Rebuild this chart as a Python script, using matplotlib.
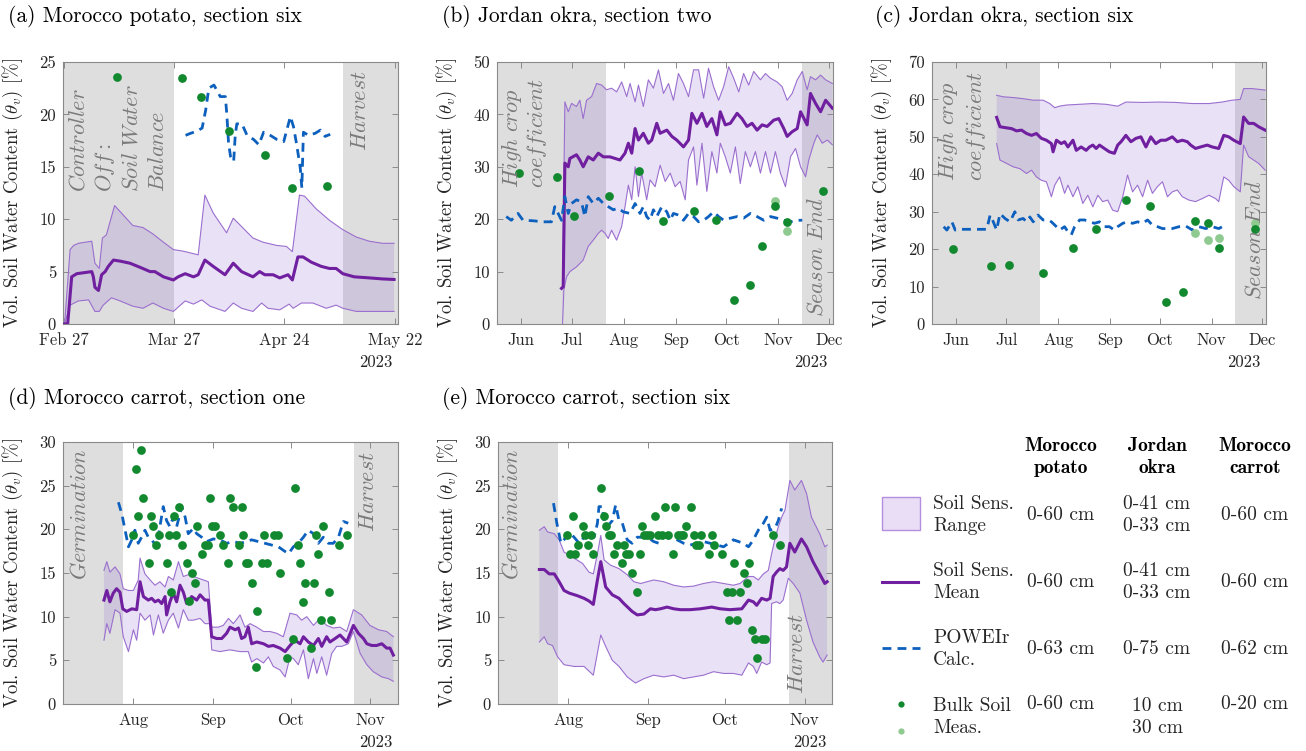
import numpy as np
import matplotlib
matplotlib.use("Agg")
import matplotlib.pyplot as plt
import matplotlib.dates as mdates
from matplotlib.patches import Rectangle
from matplotlib.lines import Line2D

plt.rcParams["font.family"] = "cmr10"
plt.rcParams["mathtext.fontset"] = "cm"
plt.rcParams["axes.formatter.use_mathtext"] = True
plt.rcParams["axes.unicode_minus"] = False

W, H = 1306, 751

# ---------------------------------------------------------------------------
# (a) Morocco potato, section six   (days since 2023-02-27)
# ---------------------------------------------------------------------------
a_mean_d = [0.2,1,2,3.3,7.1,7.5,7.9,8.8,9.6,10.5,11.3,12.6,14.3,16.8,19.4,21.9,23.1,25.3,27.8,29,
            30.8,32.9,34.1,35.8,37.9,40.9,43,45.1,48,49.7,51,53.1,54.8,56.9,58,59.4,60.7,62.8,65.3,
            67.4,69.1,70.8,73.7,77.5,80.9,83.8]
a_mean_v = [0,0.05,4.5,4.8,5.0,4.5,3.5,3.2,4.7,5.0,5.5,6.1,6.0,5.8,5.4,5.0,5.0,4.5,4.2,4.5,
            4.8,4.5,4.7,6.1,5.5,4.7,5.8,5.0,4.5,5.0,4.7,4.7,4.4,4.7,4.2,6.4,6.4,5.9,5.5,
            5.3,5.3,4.8,4.5,4.4,4.3,4.25]
a_up_d = [0.2,1.6,2.5,3.7,7.1,7.9,9,9.8,10.8,12.9,14.6,17.5,20.1,22.6,25.3,27.8,30.3,34.1,35.8,37.9,
          41.3,43,45.1,48,50.6,54,56.5,58,59.8,61.1,64,67.4,70.8,74.2,77.5,80.9,83.8]
a_up_v = [0,7.1,7.5,7.7,7.9,5.8,5.3,8.2,8.5,11.3,10.6,9.4,9.2,8.6,7.8,7.1,6.95,6.6,12.3,10.6,
          8.7,10.1,9.3,8.2,7.8,7.5,7.4,6.9,12.3,12.2,11.0,9.9,9.0,8.3,7.9,7.7,7.7]
a_lo_d = [0.2,1.6,3.7,6.3,7.9,9,10,12.1,14.3,17.5,20.1,22.6,25.3,27.8,30.8,32.9,35,37.1,40.9,43,
          45.1,48,50.2,51.8,54.8,57.2,58.2,60.3,63.2,66.6,69.1,70.8,74.2,83.8]
a_lo_v = [0,1.8,2.2,2.3,1.2,1.2,1.8,2.5,2.2,1.7,1.5,2.0,1.5,1.2,2.2,1.9,2.3,1.7,1.2,2.0,
          1.5,1.2,2.0,1.5,1.35,1.9,1.5,2.0,2.0,1.5,1.8,1.5,1.2,1.2]
a_calc_d = [30.9,32.2,33.8,35.1,36.0,36.8,38.1,39.7,41.0,41.4,41.8,42.3,43.1,43.5,43.9,45.2,46.5,
            48.2,49.5,50.7,52.4,54.1,55.8,57.5,58.3,59.1,60.0,60.4,60.8,62.1,63.8,65.1,66.3,67.6]
a_calc_v = [18.0,18.2,18.4,18.7,20.4,22.5,22.8,21.7,21.7,19.8,17.3,16.0,15.5,18.0,19.1,19.1,18.0,
            17.6,17.1,18.3,18.0,17.6,17.4,19.8,18.8,17.1,14.9,13.0,18.3,18.0,18.2,18.5,17.9,18.1]
a_meas_d = [13.6,30,34.9,42,51,57.9,66.9]
a_meas_v = [23.6,23.5,21.7,18.4,16.1,12.95,13.2]

# ---------------------------------------------------------------------------
# (b) Jordan okra, section two   (days since 2023-06-01)
# ---------------------------------------------------------------------------
b_mean_d = [23.9,24.9,25.9,27.9,28.9,32.8,34.8,36.8,39.8,42.8,45.8,48.8,52.7,55.7,58.7,61.7,63.7,
            65.7,67.7,69.7,72.6,75.6,77.6,80.6,82.6,86.6,89.6,92.5,96.5,99.5,101.5,104.5,107.5,
            110.4,113.4,116.4,118.4,121.4,124.4,128.4,131.3,134.3,137.3,140.3,143.3,146.3,150.2,
            153.2,156.2,158.2,161.2,164.2,166.2,170.1,172.1,175.1,178.1,181.1,185.1]
b_mean_v = [6.8,7.1,30.7,30.0,31.6,32.3,31.3,30.0,31.9,31.3,32.6,31.9,31.9,31.6,31.3,32.6,34.5,
            32.6,37.3,35.1,36.4,34.5,35.1,38.3,36.4,37.0,35.8,35.1,33.8,35.1,40.2,38.3,40.2,
            37.7,39.2,36.1,40.5,38.0,38.3,40.2,39.2,37.7,38.3,37.0,38.0,37.7,38.9,
            39.2,37.3,35.8,36.7,37.3,40.5,38.0,44.0,42.1,40.5,42.7,41.2]
b_up_d = [24.5,25.9,27.9,29.9,32.8,34.8,36.8,38.8,41.8,44.8,47.8,50.7,53.7,56.7,59.7,62.7,64.7,
          67.7,69.7,72.6,75.6,78.6,81.6,84.6,87.6,90.5,93.5,96.5,99.5,102.5,105.5,108.5,111.4,
          114.4,117.4,120.4,123.4,126.4,129.4,132.3,135.3,138.3,142.3,145.3,148.3,152.2,155.2,
          158.2,161.2,164.2,167.2,170.1,172.1,175.1,178.1,181.1,185.1]
b_up_v = [7.0,42.4,40.5,42.1,41.5,42.7,39.2,42.7,43.4,45.9,45.6,44.7,45.0,44.3,46.2,43.4,45.9,
          42.4,45.6,41.5,46.6,45.0,48.5,44.0,45.9,42.7,47.8,45.9,43.4,48.5,48.5,43.1,48.8,
          45.3,42.7,45.3,49.1,46.9,44.3,47.8,45.6,48.2,46.6,47.8,46.9,46.2,45.3,
          42.7,44.0,46.6,48.2,44.7,47.2,46.6,47.5,46.6,45.9]
b_lo_d = [24.5,25.3,26.9,28.9,32.8,36.8,39.8,42.8,45.8,47.8,49.8,51.7,53.7,56.7,59.7,61.7,63.7,
          65.7,67.7,69.7,71.6,74.6,76.6,79.6,82.6,85.6,88.6,91.5,94.5,97.5,99.5,102.5,104.5,
          107.5,110.4,113.4,116.4,118.4,121.4,124.4,127.4,130.3,133.3,136.3,139.3,142.3,145.3,
          148.3,151.2,154.2,157.2,160.2,163.2,166.2,169.2,171.1,174.1,176.1,179.1,182.1,185.1]
b_lo_v = [0,6.5,9.0,10.0,10.9,12.2,14.8,16.0,17.3,17.9,17.3,16.3,17.9,16.0,18.6,22.4,26.5,
          23.7,30.0,24.3,28.8,23.7,27.5,26.2,30.3,27.2,28.8,26.2,27.2,23.7,31.3,33.8,26.5,
          34.5,25.3,32.9,28.8,34.5,31.9,28.8,33.8,26.8,32.9,30.0,32.9,28.8,32.9,
          28.8,32.9,28.8,26.2,31.9,33.5,30.0,28.1,31.3,34.5,36.1,34.5,35.1,34.2]
b_calc_d = [-9.0,-6.0,-2.0,1.0,7.0,12.9,17.9,19.9,21.9,23.9,25.9,27.9,29.9,32.8,35.8,37.8,39.8,
            42.8,45.8,48.8,51.7,54.7,57.7,60.7,64.7,67.7,70.6,72.6,74.6,76.6,78.6,80.6,83.6,
            86.6,88.6,90.5,93.5,96.5,99.5,102.5,105.5,108.5,111.4,114.4,117.4,120.4,124.4,
            128.4,132.3,136.3,140.3,144.3,148.3,152.2,156.2,160.2,164.2,167.2]
b_calc_v = [20.5,19.8,21.1,19.8,19.7,19.5,19.5,22.4,21.1,19.8,24.3,21.1,23.0,23.7,23.3,20.5,24.3,
            23.0,24.0,23.0,22.4,21.8,22.1,21.4,21.1,23.0,21.1,22.4,20.5,19.8,21.8,20.5,22.4,
            21.4,19.8,21.1,20.8,19.8,21.1,20.5,19.5,19.8,20.5,21.4,20.5,19.8,20.2,
            20.5,20.2,21.1,20.5,19.8,20.5,20.2,19.8,19.5,19.8,19.8]
b_meas_d = [-1.6,21.3,31.2,52.3,70.2,84.6,102.5,116,126.4,136.3,143.3,151.2,158.2,179.7]
b_meas_v = [28.9,28.0,20.7,24.4,29.2,19.7,21.5,19.8,4.6,7.4,14.8,22.6,19.5,25.3]
b_deep_d = [151.2,158.2]
b_deep_v = [23.5,17.8]

# ---------------------------------------------------------------------------
# (c) Jordan okra, section six   (days since 2023-06-01)
# ---------------------------------------------------------------------------
c_mean_d = [24.2,26.2,30.2,33.2,36.1,39.1,42.1,45.1,48.0,51.0,54.0,57.0,58.0,60.0,62.9,64.9,66.9,
            69.9,71.9,74.8,77.8,79.8,81.8,83.8,85.8,88.7,91.7,94.7,96.7,98.7,101.6,104.6,107.6,
            110.6,113.6,116.5,119.5,122.5,125.5,129.4,132.4,135.4,138.4,140.4,143.3,146.3,150.3,
            153.3,157.2,160.2,163.2,166.2,170.1,172.1,175.1,178.1,181.1,185.0]
c_mean_v = [55.2,52.7,52.4,52.2,51.6,51.8,50.9,50.4,50.9,49.6,49.1,48.2,46.0,49.1,48.2,48.7,47.3,
            49.1,46.4,47.3,46.4,47.3,47.8,46.9,47.8,46.9,46.0,45.6,47.8,48.7,50.4,48.7,49.6,
            50.0,47.3,50.0,48.2,49.1,49.1,50.0,48.7,49.1,48.7,47.8,46.9,47.3,47.8,
            47.3,46.9,50.4,50.0,49.1,48.2,55.3,53.6,53.6,52.7,51.8]
c_up_d = [24.2,28.2,34.1,40.1,46.1,52.0,56.0,59.0,61.9,65.9,73.9,81.8,89.7,96.7,101.6,111.6,121.5,
          131.4,141.4,151.3,159.2,165.2,170.1,172.1,177.1,185.0]
c_up_v = [61.1,60.7,60.5,60.2,59.8,59.8,58.9,57.8,58.2,58.5,58.7,58.9,58.7,58.2,59.3,59.2,59.3,
          59.2,58.9,58.9,59.3,59.8,60.0,62.9,62.9,62.5]
c_lo_d = [24.2,26.2,30.2,34.1,38.1,42.1,45.1,48.0,51.0,54.0,57.0,59.0,61.9,64.9,66.9,69.9,72.8,
          75.8,78.8,81.8,84.8,87.7,90.7,93.7,96.7,99.7,102.6,105.6,108.6,111.6,114.6,117.5,
          120.5,123.5,126.5,129.4,132.4,135.4,139.4,143.3,147.3,151.3,155.3,157.2,160.2,163.2,
          166.2,170.1,172.1,175.1,178.1,181.1,185.0]
c_lo_v = [48.2,43.8,42.9,42.0,41.5,40.2,41.1,39.3,38.4,38.0,34.0,37.1,39.3,34.9,37.1,34.0,36.7,
          32.2,34.4,31.3,34.4,32.7,33.1,30.4,30.0,34.0,39.8,35.3,37.1,34.0,38.4,34.9,
          36.7,38.0,34.0,35.3,35.8,34.0,33.1,32.7,33.5,34.4,33.5,32.7,39.3,38.4,
          36.7,35.3,47.8,44.7,43.8,42.9,41.1]
c_calc_d = [-7.5,-5.6,-2.6,-0.6,2.4,8.3,14.3,18.3,20.3,22.2,24.2,26.2,29.2,32.2,35.1,37.1,40.1,
            42.1,44.1,46.1,49.0,52.0,55.0,57.0,60.0,61.9,64.9,66.9,68.9,70.9,73.9,76.8,79.8,
            82.8,85.8,88.7,91.7,94.7,96.7,99.7,102.6,105.6,108.6,111.6,114.6,117.5,120.5,
            123.5,126.5,129.4,133.4,137.4,141.4,145.3,149.3,153.3,157.2,161.2]
c_calc_v = [26.0,25.1,27.3,25.1,25.3,25.3,25.3,25.3,29.1,27.3,25.1,29.5,28.2,27.3,30.0,27.8,28.2,
            27.3,28.6,27.3,29.1,27.8,27.8,27.3,26.0,25.1,26.0,24.6,23.8,26.0,27.8,27.8,27.3,
            26.9,27.3,26.0,26.0,25.1,26.0,26.9,27.3,26.9,27.3,26.9,27.8,26.4,26.0,
            25.5,25.5,25.5,26.0,26.2,25.1,26.0,25.5,26.0,25.5,26.4]
c_meas_d = [-2.0,21.0,31.4,52.0,70.1,84.0,101.8,115.9,125.9,135.8,142.9,150.9,157.6,178.7]
c_meas_v = [20.1,15.6,15.7,13.7,20.2,25.5,33.1,31.6,5.8,8.5,27.6,27.0,20.2,25.4]
c_deep_d = [142.9,150.9,157.6,178.7]
c_deep_v = [24.4,22.4,22.9,27.0]

# ---------------------------------------------------------------------------
# (d) Morocco carrot, section one   (days since 2023-08-01)
# ---------------------------------------------------------------------------
d_mean_d = [-11.4,-10.3,-9.1,-7.8,-6.5,-5.2,-4.1,-2.6,-0.6,1.3,2.6,3.9,5.8,7.1,8.4,9.7,11.0,12.3,
            12.9,14.2,15.5,16.8,18.1,19.4,20.7,22.6,24.6,25.9,27.8,29.1,30.4,32.3,34.3,36.2,37.5,
            39.5,40.8,42.0,43.3,44.6,45.9,47.9,50.5,52.4,54.3,56.9,58.9,60.8,62.7,64.7,66.0,
            67.9,69.9,71.8,73.1,75.0,76.3,78.3,80.2,82.8,85.4,87.3,89.3,90.6,92.5,94.4,96.4,
            98.3,99.6,100.9]
d_mean_v = [11.9,13.0,11.7,12.7,13.2,12.8,10.9,10.6,10.9,10.8,14.0,12.3,11.9,12.1,11.7,11.9,11.5,
            12.3,10.2,11.7,12.7,11.7,13.6,12.8,11.5,12.3,11.9,12.5,11.9,11.9,7.7,7.5,7.5,8.1,8.8,
            8.5,8.7,7.5,7.7,8.8,6.9,7.1,6.9,6.6,6.7,6.4,6.0,6.7,7.3,6.9,7.7,
            7.1,6.7,7.5,6.6,7.7,7.1,7.5,7.9,7.1,9.0,8.1,7.5,6.9,6.7,6.7,6.9,
            6.4,6.4,5.6]
d_up_d = [-11.4,-10.3,-9.1,-7.1,-5.2,-3.9,-1.9,0,1.9,2.6,4.5,6.5,8.4,10.3,12.3,13.6,15.5,17.5,19.4,
          21.3,23.3,25.2,27.2,29.1,30.4,33.0,34.9,36.9,38.8,41.4,43.3,45.3,47.9,50.5,53.0,55.6,
          58.2,60.8,63.4,65.3,67.3,69.9,72.4,75.0,77.6,80.2,82.8,85.4,88.6,91.8,95.1,98.3,100.9]
d_up_v = [15.3,16.3,15.1,15.7,14.9,13.2,13.0,13.0,14.2,16.7,14.9,14.2,13.6,14.0,13.4,14.6,14.2,16.3,
          14.6,14.8,14.6,14.4,14.2,14.0,8.8,8.8,9.0,9.8,9.2,10.2,8.8,9.2,8.8,8.3,8.3,8.1,
          7.7,10.4,10.2,9.6,10.0,9.0,9.8,9.0,8.7,8.8,8.3,10.8,10.2,9.0,8.5,8.3,7.7]
d_lo_d = [-11.4,-10.3,-9.1,-7.1,-5.2,-3.9,-1.9,0,1.3,2.6,4.5,6.5,7.8,9.7,11.6,13.6,15.5,17.5,19.4,
          21.3,23.3,25.9,27.8,29.8,30.4,33.6,37.5,41.4,44.6,45.9,47.9,50.5,52.4,54.3,56.9,58.9,
          60.8,62.1,64.0,66.0,67.9,69.9,71.2,73.1,75.0,77.0,78.9,80.9,83.4,85.4,88.0,90.6,93.1,
          96.4,99.0,100.9]
d_lo_v = [7.3,9.2,8.1,10.8,10.4,7.7,6.0,8.5,7.3,10.4,9.6,10.2,7.9,10.2,8.1,9.6,10.4,8.7,10.8,
          9.6,9.6,9.8,9.2,9.2,6.2,6.0,6.2,6.0,6.0,4.8,5.2,4.7,5.4,4.3,3.9,3.1,
          5.4,5.2,4.5,6.2,2.9,5.2,3.5,5.4,3.3,5.8,6.6,6.6,6.9,8.3,5.8,4.5,3.7,
          3.1,2.9,2.6]
d_calc_d = [-5.8,-4.5,-3.2,-1.9,-0.6,0.6,1.9,3.2,4.5,5.8,7.1,9.1,10.3,11.6,12.9,14.2,15.5,16.8,
            18.8,20.1,21.3,23.3,24.6,26.5,28.5,31.0,33.6,36.2,38.8,41.4,44.0,45.9,48.5,51.1,
            53.7,56.3,58.2,60.2,62.1,64.0,66.0,67.9,69.9,71.8,73.7,75.7,77.6,79.6,81.5,83.4]
d_calc_v = [23.1,21.8,19.9,18.0,18.8,19.9,18.4,19.1,19.9,19.1,18.8,18.0,20.3,22.6,21.0,20.3,21.4,
            20.3,22.6,21.4,19.5,20.1,19.5,19.1,18.6,18.9,18.8,18.4,18.6,18.4,18.6,18.8,18.6,
            18.4,18.2,18.0,17.6,17.2,18.0,18.4,19.1,19.9,19.5,18.4,19.1,18.4,18.4,19.1,20.9,20.7]
d_meas_d = [-0.3,0.9,1.8,2.8,3.9,6.0,6.7,7.8,8.8,9.8,12.9,13.7,14.7,15.7,16.7,17.7,18.8,21.0,21.7,
            22.6,23.8,24.8,26.6,27.7,29.0,29.8,30.7,31.7,33.6,34.7,36.9,37.5,38.8,40.9,42.0,42.7,
            43.6,44.6,45.9,47.9,49.8,50.8,51.9,54.7,56.0,56.9,47.6,59.8,61.8,62.7,63.8,64.8,
            65.9,66.8,68.8,70.0,70.9,71.8,72.8,73.7,75.8,76.7,79.8,82.8]
d_meas_v = [19.3,26.9,21.5,29.1,23.6,16.1,21.5,20.4,18.2,19.3,16.1,19.3,12.8,21.5,19.3,22.6,18.2,
            16.1,11.8,15.0,13.9,20.4,17.2,18.2,18.2,23.6,20.4,20.4,19.3,18.2,16.1,23.6,22.6,
            18.2,22.6,19.3,16.1,16.1,13.9,10.7,16.1,19.3,16.1,19.3,19.3,15.0,4.2,5.3,7.4,24.7,
            18.2,16.1,11.7,13.9,6.4,13.9,19.3,17.2,9.6,20.4,12.8,9.6,18.2,19.3]

# ---------------------------------------------------------------------------
# (e) Morocco carrot, section six   (days since 2023-08-01)
# ---------------------------------------------------------------------------
e_mean_d = [-11.2,-9.3,-7.4,-5.4,-3.5,-1.6,0.4,3.6,6.2,8.1,9.8,11.4,12.7,14.6,17.2,19.8,21.7,24.9,
            26.9,29.5,32.0,34.0,35.9,38.5,41.1,43.7,47.5,51.4,55.9,59.2,63.0,67.6,70.2,72.1,73.4,
            75.3,77.3,78.6,79.8,81.1,82.4,83.7,85.0,86.3,88.2,90.8,92.8,95.3,97.9,99.9,100.8]
e_mean_v = [15.4,15.4,14.9,14.9,14.0,13.0,12.7,12.4,12.1,11.8,11.4,14.2,16.3,13.4,12.5,12.1,11.5,
            10.6,10.2,10.3,10.9,10.8,10.9,11.1,10.9,10.8,10.8,10.9,11.1,10.9,10.8,10.9,11.9,
            11.7,11.3,12.1,11.9,12.1,14.6,15.1,15.5,15.3,15.7,18.4,17.4,18.9,18.0,16.3,14.9,
            13.8,14.0]
e_up_d = [-11.2,-9.3,-8.0,-5.4,-3.5,-1.6,2.3,5.6,8.1,9.8,11.4,12.7,14.0,16.5,19.8,23.0,25.6,28.2,
          30.7,33.3,37.2,41.1,45.0,48.8,52.7,56.6,60.5,64.3,66.9,70.2,72.1,74.0,76.0,77.9,79.2,
          80.5,81.8,83.1,84.4,86.3,88.2,90.8,92.8,94.7,97.9,99.9,100.8]
e_up_v = [19.9,20.3,19.7,19.5,18.8,17.4,16.7,16.1,15.1,14.9,17.2,19.3,16.5,15.9,15.5,14.8,14.0,13.8,
          14.0,14.2,14.0,13.6,13.4,13.5,13.8,14.0,13.8,13.6,13.8,14.6,14.6,14.2,14.9,15.3,17.2,
          18.9,20.3,21.4,22.2,25.6,24.5,25.6,24.1,21.4,19.5,18.0,18.2]
e_lo_d = [-11.2,-9.3,-8.0,-6.1,-4.1,-1.6,2.3,6.2,9.8,12.7,14.6,17.2,19.8,23.0,26.2,29.5,33.3,37.2,
          41.1,45.0,48.8,52.7,56.6,60.5,64.3,67.6,70.2,72.1,73.4,75.3,77.3,78.6,79.2,81.1,82.4,
          83.7,85.7,87.6,90.2,92.8,95.3,97.9,99.2,100.8]
e_lo_v = [7.1,7.7,6.9,6.7,5.4,4.5,4.3,4.3,3.3,7.9,6.6,5.0,4.3,3.1,2.4,2.9,3.3,3.1,
          3.3,2.9,3.1,3.3,3.7,3.5,3.5,3.3,4.7,4.3,3.5,4.8,4.5,4.7,11.5,11.7,11.5,
          11.9,14.4,13.8,12.7,9.6,7.1,5.4,4.8,5.6]
e_calc_d = [-5.7,-4.4,-2.8,-1.6,0.4,2.3,4.3,6.2,8.1,10.1,11.4,12.0,13.3,14.0,15.2,17.2,18.5,19.8,
            21.1,23.0,24.9,26.9,29.5,31.4,33.3,35.3,37.2,39.8,42.4,45.0,47.5,50.1,52.7,55.3,
            57.9,60.5,62.4,64.3,66.3,68.2,70.2,72.1,74.0,76.0,77.3,78.6,80.5,81.8,83.1]
e_calc_v = [23.0,20.7,18.4,18.8,19.7,19.1,18.4,19.1,19.9,19.1,20.7,22.6,22.6,20.9,20.3,21.0,22.8,
            21.0,20.7,18.8,18.4,19.1,19.1,19.0,18.6,18.4,19.1,19.0,18.8,18.4,18.2,18.4,18.6,
            18.4,18.2,18.0,18.4,18.8,18.6,18.4,18.0,18.8,19.9,20.7,21.4,19.9,20.1,21.0,22.4]
e_meas_d = [-0.3,0.8,1.8,2.8,3.7,5.9,6.7,7.8,8.8,9.8,12.9,13.8,14.9,15.9,16.8,17.8,18.9,20.8,21.7,
            22.7,23.8,24.8,26.9,27.8,28.7,29.7,30.7,31.7,33.7,34.8,36.7,37.7,38.8,40.8,41.7,42.8,
            43.8,44.8,45.7,47.8,48.8,49.7,50.8,51.8,54.8,55.8,56.7,59.8,61.8,62.7,63.7,64.6,
            65.6,66.7,68.6,69.6,70.5,71.6,72.6,73.6,75.6,76.6,79.6,82.6]
e_meas_v = [19.3,17.2,21.5,17.2,18.2,20.4,19.3,18.2,19.3,17.2,24.7,21.5,20.4,19.3,19.3,17.2,18.2,
            16.1,18.2,17.2,17.2,15.0,12.8,17.2,20.4,19.3,19.3,19.3,21.5,19.3,19.3,22.6,19.3,
            17.2,22.6,19.3,19.3,19.3,20.4,22.6,19.3,18.2,18.2,19.3,17.2,19.3,18.2,17.2,12.8,
            9.6,12.8,16.1,9.6,12.8,15.0,13.9,16.1,8.5,7.4,5.3,7.4,7.4,19.3,18.2]

# tick labels
a_ticks = ["2023-02-27", "2023-03-27", "2023-04-24", "2023-05-22"]
a_labels = ["Feb 27", "Mar 27", "Apr 24", "May 22"]
bc_ticks = ["2023-06-01", "2023-07-01", "2023-08-01", "2023-09-01", "2023-10-01", "2023-11-01", "2023-12-01"]
bc_labels = ["Jun", "Jul", "Aug", "Sep", "Oct", "Nov", "Dec"]
de_ticks = ["2023-08-01", "2023-09-01", "2023-10-01", "2023-11-01"]
de_labels = ["Aug", "Sep", "Oct", "Nov"]

# colours
GRAY_BG = "#dedede"
FILL = "#9169cd"
EDGE = "#9b6fcf"
MEAN = "#6f1f9f"
CALC = "#0d60bd"
MEAS = "#12892f"
MEAS_L = "#8fca90"
NOTE = "#7a7a7a"
FRAME = "#8a8a8a"
TXT = "#262626"

fig = plt.figure(figsize=(W / 100, H / 100), dpi=100)


def px_rect(l, t, r, b):
    return [l / W, 1 - b / H, (r - l) / W, (b - t) / H]


def xd(base, days):
    return mdates.date2num(np.datetime64(base)) + np.asarray(days, dtype=float)


def panel(rect, base, xlim, ymax, ystep, shade, mean, up, lo, calc, meas, deep,
          ticks, labels, notes, title, title_px):
    ax = fig.add_axes(px_rect(*rect))
    for s0, s1 in shade:
        ax.axvspan(xd(base, s0), xd(base, s1), color=GRAY_BG, lw=0, zorder=0)
    ux, lx = xd(base, up[0]), xd(base, lo[0])
    ax.fill(np.r_[ux, lx[::-1]], np.r_[up[1], lo[1][::-1]], color=FILL, alpha=0.2, lw=0, zorder=1)
    ax.plot(ux, up[1], color=EDGE, lw=0.8, zorder=2)
    ax.plot(lx, lo[1], color=EDGE, lw=0.8, zorder=2)
    ax.plot(xd(base, mean[0]), mean[1], color=MEAN, lw=2.2, zorder=3)
    ax.plot(xd(base, calc[0]), calc[1], color=CALC, lw=2.0, ls=(0, (3.2, 2.2)), zorder=4)
    if deep is not None:
        ax.plot(xd(base, deep[0]), deep[1], "o", ms=6.3, color=MEAS_L, mec="none", zorder=5)
    ax.plot(xd(base, meas[0]), meas[1], "o", ms=6.3, color=MEAS, mec="none", zorder=6)

    ax.set_xlim(xd(base, xlim[0]), xd(base, xlim[1]))
    ax.set_ylim(0, ymax)
    yt = np.arange(0, ymax + 0.1, ystep)
    ax.set_yticks(yt)
    ax.set_yticklabels([f"{v:g}" for v in yt])
    ax.set_xticks([mdates.date2num(np.datetime64(t)) for t in ticks])
    ax.set_xticklabels(labels)
    ax.tick_params(direction="in", length=4, width=0.7, color=FRAME, labelcolor=TXT,
                   labelsize=12, top=True, right=True)
    ax.tick_params(axis="x", pad=6)
    ax.tick_params(axis="y", pad=5)
    for sp in ax.spines.values():
        sp.set_color(FRAME)
        sp.set_linewidth(0.8)
    ax.set_ylabel(r"Vol. Soil Water Content ($\theta_v$) [%]", fontsize=13.5, color=TXT)
    ax.yaxis.set_label_coords(-38 / (rect[2] - rect[0]), 0.5)
    ax.text(0.985, -0.145, "2023", transform=ax.transAxes, ha="right", va="center",
            fontsize=12, color=TXT)
    for txt, fx, fy, va in notes:
        ax.text(fx, fy, txt, transform=ax.transAxes, rotation=90, ha="center", va=va,
                fontsize=16, color=NOTE, zorder=7)
    fig.text(title_px[0] / W, 1 - title_px[1] / H, title, fontsize=15.5, ha="left",
             va="center", color="black")
    return ax


panel((63, 62, 398, 324), "2023-02-27", (-0.2, 84.8), 25, 5,
      [(-1, 27.9), (70.9, 90)],
      (a_mean_d, a_mean_v), (a_up_d, a_up_v), (a_lo_d, a_lo_v), (a_calc_d, a_calc_v),
      (a_meas_d, a_meas_v), None, a_ticks, a_labels,
      [(r"$Controller$", 0.045, 0.505, "bottom"), (r"$Off:$", 0.125, 0.505, "bottom"),
       (r"$Soil\ Water$", 0.205, 0.505, "bottom"), (r"$Balance$", 0.285, 0.505, "bottom"),
       (r"$Harvest$", 0.888, 0.97, "top")],
      "(a) Morocco potato, section six", (8, 17))

panel((497, 62, 833, 324), "2023-06-01", (-14.5, 185.5), 50, 10,
      [(-20, 50.2), (166.8, 200)],
      (b_mean_d, b_mean_v), (b_up_d, b_up_v), (b_lo_d, b_lo_v), (b_calc_d, b_calc_v),
      (b_meas_d, b_meas_v), (b_deep_d, b_deep_v), bc_ticks, bc_labels,
      [(r"$High\ crop$", 0.042, 0.52, "bottom"), (r"$coefficient$", 0.12, 0.52, "bottom"),
       (r"$Season\ End$", 0.95, 0.025, "bottom")],
      "(b) Jordan okra, section two", (442, 17))

panel((932, 62, 1266, 324), "2023-06-01", (-14.5, 185.5), 70, 10,
      [(-20, 50.2), (166.8, 200)],
      (c_mean_d, c_mean_v), (c_up_d, c_up_v), (c_lo_d, c_lo_v), (c_calc_d, c_calc_v),
      (c_meas_d, c_meas_v), (c_deep_d, c_deep_v), bc_ticks, bc_labels,
      [(r"$High\ crop$", 0.047, 0.545, "bottom"), (r"$coefficient$", 0.133, 0.545, "bottom"),
       (r"$Season\ End$", 0.965, 0.09, "bottom")],
      "(c) Jordan okra, section six", (875, 17))

panel((63, 442, 398, 704), "2023-08-01", (-27.3, 102.7), 30, 5,
      [(-40, -4.1), (85.8, 120)],
      (d_mean_d, d_mean_v), (d_up_d, d_up_v), (d_lo_d, d_lo_v), (d_calc_d, d_calc_v),
      (d_meas_d, d_meas_v), None, de_ticks, de_labels,
      [(r"$Germination$", 0.05, 0.975, "top"), (r"$Harvest$", 0.91, 0.965, "top")],
      "(d) Morocco carrot, section one", (8, 398))

panel((498, 442, 832, 704), "2023-08-01", (-27.3, 102.7), 30, 5,
      [(-40, -4.1), (85.8, 120)],
      (e_mean_d, e_mean_v), (e_up_d, e_up_v), (e_lo_d, e_lo_v), (e_calc_d, e_calc_v),
      (e_meas_d, e_meas_v), None, de_ticks, de_labels,
      [(r"$Germination$", 0.04, 0.975, "top"), (r"$Harvest$", 0.895, 0.04, "bottom")],
      "(e) Morocco carrot, section six", (442, 398))

# ---------------------------------------------------------------------------
# legend table
# ---------------------------------------------------------------------------
def ftext(x, y, s, **kw):
    kw.setdefault("fontsize", 14)
    kw.setdefault("color", TXT)
    kw.setdefault("va", "center")
    kw.setdefault("linespacing", 1.25)
    fig.text(x / W, 1 - y / H, s, **kw)


col_x = [1061, 1157, 1255]
headers = ["Morocco\npotato", "Jordan\nokra", "Morocco\ncarrot"]
rows_y = [515, 582, 649, 717]
row_names = ["Soil Sens.\nRange", "Soil Sens.\nMean", "POWEIr\nCalc.", "Bulk Soil\nMeas."]
cells = [["0-60 cm", "0-41 cm\n0-33 cm", "0-60 cm"],
         ["0-60 cm", "0-41 cm\n0-33 cm", "0-60 cm"],
         ["0-63 cm", "0-75 cm", "0-62 cm"],
         ["0-60 cm", "10 cm\n30 cm", "0-20 cm"]]

for cx, hd in zip(col_x, headers):
    ftext(cx, 457, hd, ha="center", family="cmb10", color="black")
for ry, nm, row in zip(rows_y, row_names, cells):
    ftext(933, ry, nm, ha="left", multialignment="left")
    for cx, cell in zip(col_x, row):
        yy = ry if "\n" in cell else (ry - 13 if ry == 717 else ry)
        ftext(cx, yy, cell, ha="center", multialignment="center")

fig.add_artist(Rectangle((882 / W, 1 - 530 / H), 38 / W, 33 / H, transform=fig.transFigure,
                         facecolor="#e9def5", edgecolor="#b48ee0", lw=1.0))
fig.add_artist(Line2D([882 / W, 918 / W], [1 - 582 / H] * 2, transform=fig.transFigure,
                      color=MEAN, lw=2.2))
fig.add_artist(Line2D([882 / W, 920 / W], [1 - 648 / H] * 2, transform=fig.transFigure,
                      color=CALC, lw=2.0, ls=(0, (3.2, 2.2))))
fig.add_artist(Line2D([901 / W], [1 - 704 / H], transform=fig.transFigure, marker="o",
                      ms=4.5, color=MEAS, mec="none", ls="none"))
fig.add_artist(Line2D([901 / W], [1 - 731 / H], transform=fig.transFigure, marker="o",
                      ms=4.5, color=MEAS_L, mec="none", ls="none"))

fig.savefig("out.png", dpi=100)
plt.close(fig)
